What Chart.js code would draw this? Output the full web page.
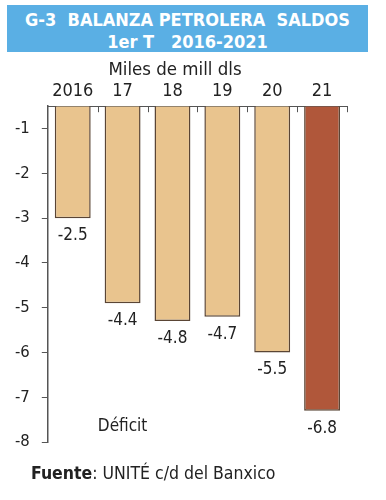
<!DOCTYPE html>
<html>
<head>
<meta charset="utf-8">
<script src="https://cdn.jsdelivr.net/npm/chart.js@4"></script>
<style>
  body { margin: 0; background: #fff; }
  #wrap { position: relative; width: 386px; height: 500px; font-family: 'DejaVu Sans Condensed', Roboto, sans-serif; }
  #head {
    position: absolute; left: 7px; top: 5px; width: 361px; height: 47px;
    background: #5aafe4; color: #fff; font-weight: bold; text-align: center;
    font-size: 18px; line-height: 22px; padding-top: 4px; box-sizing: border-box;
    white-space: pre;
  }
  canvas { position: absolute; left: 0; top: 0; }
  #foot { position: absolute; left: 31px; top: 463px; font-size: 17.5px; color: #222; }
</style>
</head>
<body>
<div id="wrap">
  <canvas id="myChart" width="386" height="500"></canvas>
  <div id="head">G-3  BALANZA PETROLERA  SALDOS
1er T   2016-2021</div>
  <div id="foot"><b>Fuente</b>: UNITÉ c/d del Banxico</div>
</div>
<script>
const categories = ['2016', '17', '18', '19', '20', '21'];
const saldos = [-2.5, -4.4, -4.8, -4.7, -5.5, -6.8];
const barColors = ['#e9c48e', '#e9c48e', '#e9c48e', '#e9c48e', '#e9c48e', '#b0573a'];
const tickLabels = [-1, -2, -3, -4, -5, -6, -7, -8];
// the printed axis is shifted half a unit from the bars
const axisShift = 0.5;

const fam = "'DejaVu Sans Condensed', Roboto, sans-serif";
const txt = '#222';
const axisColor = '#555';

const extras = {
  id: 'extras',
  afterDatasetsDraw(chart) {
    const ctx = chart.ctx;
    const xs = chart.scales.x;
    const ys = chart.scales.y;
    ctx.save();
    ctx.fillStyle = txt;
    ctx.textAlign = 'center';
    ctx.textBaseline = 'top';
    ctx.font = '17px ' + fam;
    chart.getDatasetMeta(0).data.forEach((bar, i) => {
      ctx.fillText(saldos[i].toFixed(1), bar.x, bar.y + 9);
    });
    ctx.textBaseline = 'middle';
    ctx.fillText('Déficit', xs.getPixelForValue(1), ys.getPixelForValue(-7.16));

    // small inward ticks between categories on the top axis
    ctx.strokeStyle = axisColor;
    ctx.lineWidth = 1;
    const step = (xs.right - xs.left) / categories.length;
    for (let i = 1; i <= categories.length; i++) {
      const x = Math.round(xs.left + step * i) + 0.5;
      ctx.beginPath();
      ctx.moveTo(x, ys.top);
      ctx.lineTo(x, ys.top + 6);
      ctx.stroke();
    }
    ctx.restore();
  }
};

new Chart(document.getElementById('myChart'), {
  type: 'bar',
  data: {
    labels: categories,
    datasets: [{
      data: saldos,
      backgroundColor: barColors,
      borderColor: '#5a4535',
      borderWidth: 1.5,
      barPercentage: 0.72,
      categoryPercentage: 1
    }]
  },
  options: {
    responsive: false,
    animation: false,
    layout: { padding: { top: 57, left: 3, right: 39, bottom: 58 } },
    plugins: {
      legend: { display: false },
      tooltip: { enabled: false },
      title: {
        display: true,
        text: 'Miles de mill dls',
        color: txt,
        font: { family: fam, size: 18.5, weight: 'normal' },
        padding: { top: 2, bottom: -5 }
      }
    },
    scales: {
      x: {
        position: 'top',
        grid: { drawOnChartArea: false, drawTicks: false },
        border: { display: true, color: axisColor, width: 1 },
        ticks: {
          color: txt,
          padding: 6,
          font: { family: fam, size: 18, lineHeight: 1 }
        }
      },
      y: {
        min: -7.5,
        max: 0,
        afterBuildTicks: (scale) => {
          scale.ticks = tickLabels.map(v => ({ value: v + axisShift }));
        },
        grid: { drawOnChartArea: false, drawTicks: true, tickLength: 6, color: axisColor },
        border: { display: true, color: axisColor, width: 1.5 },
        ticks: {
          color: txt,
          padding: 12,
          font: { family: fam, size: 16.5 },
          callback: (v) => String(Math.round(v - axisShift))
        }
      }
    }
  },
  plugins: [extras]
});
</script>
</body>
</html>
